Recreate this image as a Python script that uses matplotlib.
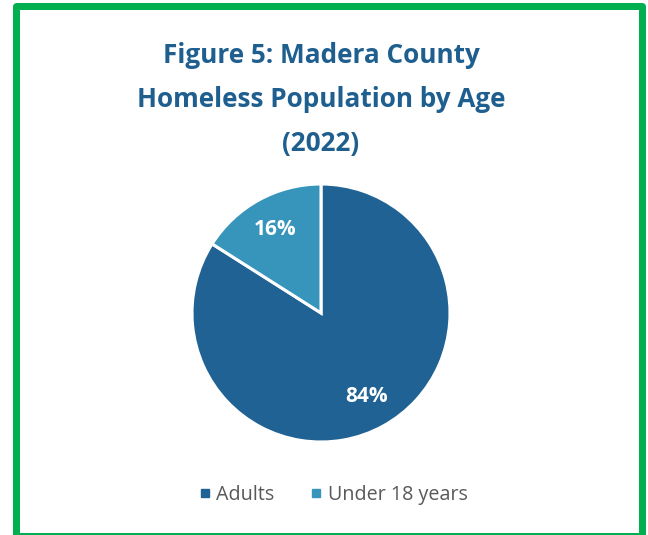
import matplotlib
matplotlib.use("Agg")
import matplotlib.pyplot as plt
from matplotlib.patches import Rectangle
from matplotlib.lines import Line2D

# datos
titulo = ["Figure 5: Madera County", "Homeless Population by Age", "(2022)"]
categorias = ["Adults", "Under 18 years"]
porcentajes = [84, 16]
colores = ["#1F6293", "#3795BC"]

plt.rcParams['font.family'] = ['Open Sans', 'DejaVu Sans']

W, H = 648, 535
fig = plt.figure(figsize=(W / 100, H / 100), dpi=100)

# marco verde
fig.patches.append(Rectangle((15.5 / W, -0.5 / H), 626 / W, 530 / H,
                             transform=fig.transFigure, fill=False,
                             edgecolor="#00B050", linewidth=5.04,
                             joinstyle="round"))

# titulo, una linea a la vez (lineas base en 63, 107, 151 px)
for linea, yb in zip(titulo, [63, 107, 151]):
    fig.text(321 / W, 1 - yb / H, linea, ha="center", va="baseline",
             fontsize=18.8, fontweight="bold", color="#1F5F8F")

# pastel: centro (321, 313), radio 129
r = 129
ax = fig.add_axes([(321 - r) / W, 1 - (313 + r) / H, 2 * r / W, 2 * r / H])
wedges, textos, autotextos = ax.pie(
    porcentajes, colors=colores, startangle=90, counterclock=False,
    autopct="%d%%", pctdistance=0.74, radius=1,
    wedgeprops=dict(edgecolor="white", linewidth=2.2),
    textprops=dict(color="white", fontsize=15, fontweight="bold"))
ax.set_xlim(-1, 1)
ax.set_ylim(-1, 1)
ax.set_aspect("equal")

# leyenda
manijas = [Line2D([], [], marker="s", linestyle="none", markersize=5.2,
                  markerfacecolor=c, markeredgecolor=c) for c in colores]
fig.legend(manijas, categorias, loc="center", bbox_to_anchor=(334 / W, 1 - 495 / H),
           ncol=2, frameon=False, fontsize=14.2, labelcolor="#595959",
           handlelength=0.45, handletextpad=0.35, columnspacing=1.9)

fig.savefig("out.png", dpi=100)
